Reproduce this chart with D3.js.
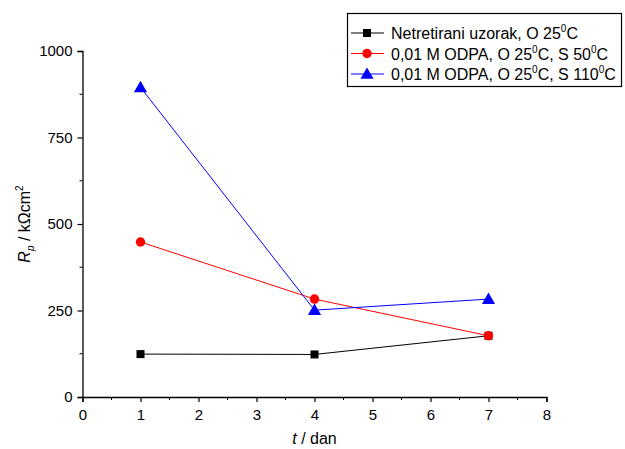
<!DOCTYPE html>
<meta charset="utf-8">
<script src="https://d3js.org/d3.v7.min.js"></script>
<style>
  body { margin: 0; background: #fff; }
  text { font-family: "Liberation Sans", Arial, sans-serif; }
</style>
<div id="chart"></div>
<script>
// data
var days = [1, 4, 7];
var untreated = [124, 123, 177];
var odpa50 = [448, 283, 177];
var odpa110 = [895, 251, 283];
var xTicks = [0, 1, 2, 3, 4, 5, 6, 7, 8];
var yTicks = [0, 250, 500, 750, 1000];

var W = 625, H = 449;
var margin = {left: 82.5, right: 78.5, top: 51, bottom: 52};

var svg = d3.select("#chart").append("svg")
    .attr("width", W).attr("height", H);

var x = d3.scaleLinear().domain([0, 8]).range([margin.left, W - margin.right]);
var y = d3.scaleLinear().domain([0, 1000]).range([H - margin.bottom, margin.top]);

// axes
var xAxis = d3.axisBottom(x).tickValues(xTicks).tickSize(5).tickFormat(d3.format("d"));
var yAxis = d3.axisLeft(y).tickValues(yTicks).tickSize(5).tickFormat(d3.format("d"));

var gx = svg.append("g").attr("transform", "translate(0," + y(0) + ")").call(xAxis);
var gy = svg.append("g").attr("transform", "translate(" + x(0) + ",0)").call(yAxis);

// minor ticks
gx.append("g").selectAll("line")
    .data(d3.range(0.5, 8, 1))
    .enter().append("line")
    .attr("x1", function(d) { return x(d); }).attr("x2", function(d) { return x(d); })
    .attr("y1", 0).attr("y2", 3).attr("stroke", "#000");
gy.append("g").selectAll("line")
    .data(d3.range(125, 1000, 250))
    .enter().append("line")
    .attr("y1", function(d) { return y(d); }).attr("y2", function(d) { return y(d); })
    .attr("x1", 0).attr("x2", -3).attr("stroke", "#000");

[gx, gy].forEach(function(g) {
  g.select(".domain").attr("stroke", "#000").attr("stroke-width", 1.3);
  g.selectAll(".tick line").attr("stroke", "#000").attr("stroke-width", 1.2);
  g.selectAll("text").attr("font-size", 15).attr("fill", "#000")
      .attr("font-family", "Liberation Sans, Arial, sans-serif");
});
gx.selectAll(".tick text").attr("dy", "0.71em").attr("y", 12);
gy.selectAll(".tick text").attr("x", -10);

// axis titles
var xt = svg.append("text").attr("x", x(4)).attr("y", 444)
    .attr("text-anchor", "middle").attr("font-size", 16);
xt.append("tspan").attr("font-style", "italic").text("t");
xt.append("tspan").text(" / dan");

var yt = svg.append("text")
    .attr("transform", "translate(30," + y(500) + ") rotate(-90)")
    .attr("text-anchor", "middle").attr("font-size", 16);
yt.append("tspan").attr("font-style", "italic").text("R");
yt.append("tspan").attr("font-style", "italic").attr("font-size", 10).attr("dy", 4).text("p");
yt.append("tspan").attr("dy", -4).text(" / kΩcm");
yt.append("tspan").attr("font-size", 10).attr("dy", -7).text("2");

// series
var series = [
  {name: "untreated", values: untreated, color: "#000000", shape: d3.symbolSquare, size: 64},
  {name: "odpa50", values: odpa50, color: "#ff0000", shape: d3.symbolCircle, size: 70},
  {name: "odpa110", values: odpa110, color: "#0000ff", shape: d3.symbolTriangle, size: 75}
];

var line = d3.line()
    .x(function(d) { return x(d[0]); })
    .y(function(d) { return y(d[1]); });

series.forEach(function(s) {
  var pts = days.map(function(d, i) { return [d, s.values[i]]; });
  svg.append("path").datum(pts)
      .attr("d", line).attr("fill", "none")
      .attr("stroke", s.color).attr("stroke-width", 1);
  svg.append("g").selectAll("path")
      .data(pts).enter().append("path")
      .attr("d", d3.symbol().type(s.shape).size(s.size))
      .attr("transform", function(d) {
        var dy = s.shape === d3.symbolTriangle ? 1 : 0;
        return "translate(" + x(d[0]) + "," + (y(d[1]) + dy) + ")";
      })
      .attr("fill", s.color);
});

// legend
var legend = svg.append("g");
legend.append("rect")
    .attr("x", 347.5).attr("y", 13.5).attr("width", 274).attr("height", 73)
    .attr("fill", "#fff").attr("stroke", "#000").attr("stroke-width", 1.2);

var legendItems = [
  [{t: "Netretirani uzorak, O 25"}, {t: "0", sup: true}, {t: "C"}],
  [{t: "0,01 M ODPA, O 25"}, {t: "0", sup: true}, {t: "C, S 50"}, {t: "0", sup: true}, {t: "C"}],
  [{t: "0,01 M ODPA, O 25"}, {t: "0", sup: true}, {t: "C, S 110"}, {t: "0", sup: true}, {t: "C"}]
];

series.forEach(function(s, i) {
  var ly = 33 + i * 20.5;
  legend.append("line")
      .attr("x1", 351).attr("x2", 384).attr("y1", ly).attr("y2", ly)
      .attr("stroke", s.color).attr("stroke-width", 1);
  legend.append("path")
      .attr("d", d3.symbol().type(s.shape).size(s.size))
      .attr("transform", "translate(367," + (ly + (s.shape === d3.symbolTriangle ? 1 : 0)) + ")")
      .attr("fill", s.color);
  var t = legend.append("text").attr("x", 391).attr("y", ly + 6)
      .attr("font-size", 16).attr("fill", "#000");
  var up = false;
  legendItems[i].forEach(function(part) {
    var ts = t.append("tspan").text(part.t);
    if (part.sup && !up) { ts.attr("font-size", 10).attr("dy", -7); up = true; }
    else if (!part.sup && up) { ts.attr("dy", 7); up = false; }
  });
});
</script>
